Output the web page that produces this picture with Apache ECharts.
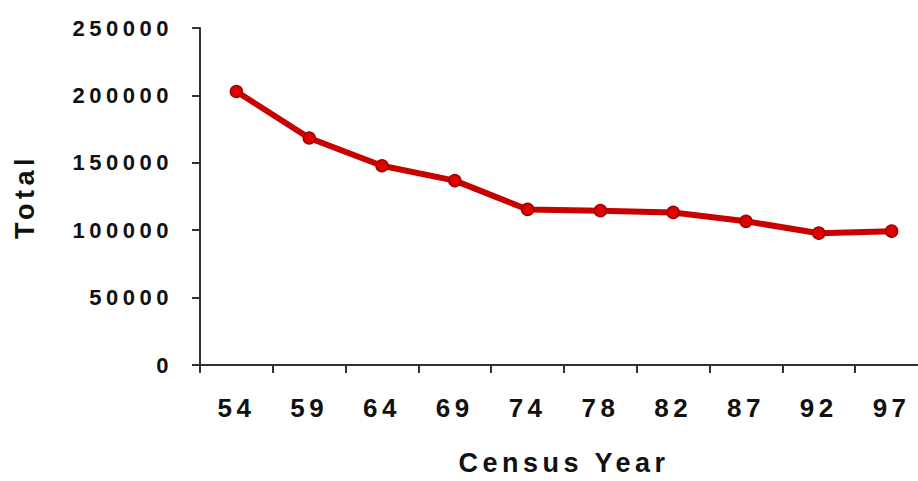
<!DOCTYPE html>
<html>
<head>
<meta charset="utf-8">
<script src="https://cdn.jsdelivr.net/npm/echarts@6/dist/echarts.min.js"></script>
<style>
html,body{margin:0;padding:0;background:#fff;overflow:hidden;width:918px;height:481px;}
#chart{width:928px;height:481px;}
#chart svg text{letter-spacing:4.5px;}
</style>
</head>
<body>
<div id="chart"></div>
<script>
const categories = ['54','59','64','69','74','78','82','87','92','97'];
const totals = [202900, 168400, 147800, 136800, 115400, 114500, 113200, 106600, 97800, 99300];
const yTicks = [0, 50000, 100000, 150000, 200000, 250000];

const chart = echarts.init(document.getElementById('chart'), null, {renderer:'svg'});
chart.setOption({
  animation:false,
  backgroundColor:'#fff',
  grid:{left:200, right:0, top:28, bottom:113, containLabel:false},
  xAxis:{
    type:'category',
    data:categories,
    boundaryGap:true,
    name:'Census Year',
    nameLocation:'middle',
    nameGap:84,
    nameTextStyle:{fontFamily:'Liberation Sans, Arial', fontWeight:'bold', fontSize:27, color:'#111'},
    axisLine:{lineStyle:{color:'#333', width:2}},
    axisTick:{show:true, length:8, lineStyle:{color:'#333', width:2}, alignWithLabel:false},
    axisLabel:{margin:30, fontFamily:'Liberation Sans, Arial', fontWeight:'bold', fontSize:26, color:'#111'}
  },
  yAxis:{
    type:'value',
    min:yTicks[0],
    max:yTicks[yTicks.length-1],
    interval:yTicks[1]-yTicks[0],
    name:'Total',
    nameLocation:'middle',
    nameGap:162,
    nameTextStyle:{fontFamily:'Liberation Sans, Arial', fontWeight:'bold', fontSize:27, color:'#111'},
    axisLine:{show:true, lineStyle:{color:'#333', width:2}},
    axisTick:{show:true, length:8, lineStyle:{color:'#333', width:2}},
    splitLine:{show:false},
    axisLabel:{margin:27, fontFamily:'Liberation Sans, Arial', fontWeight:'bold', fontSize:22, color:'#111',
      formatter:function(v){return String(v);}}
  },
  series:[{
    type:'line',
    data:totals,
    symbol:'circle',
    symbolSize:12,
    lineStyle:{color:'#c80000', width:6},
    itemStyle:{color:'#e00000', borderColor:'#a00000', borderWidth:1.5}
  }]
});
</script>
</body>
</html>
